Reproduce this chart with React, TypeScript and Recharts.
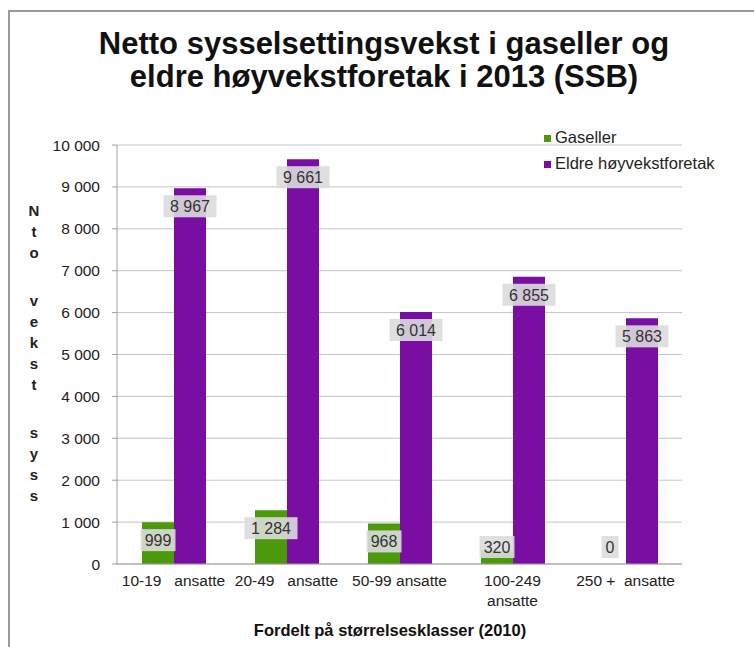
import React from 'react';
import { BarChart, Bar, XAxis, YAxis, CartesianGrid, LabelList } from 'recharts';

// Size classes (2010) and net employment growth per group
const categories = ['10-19   ansatte', '20-49   ansatte', '50-99 ansatte', '100-249\nansatte', '250 +  ansatte'];
const gaseller = [999, 1284, 968, 320, 0];
const eldre = [8967, 9661, 6014, 6855, 5863];
const yTicks = [0, 1000, 2000, 3000, 4000, 5000, 6000, 7000, 8000, 9000, 10000];

const GREEN = '#4c9a0c';
const PURPLE = '#7a0ea3';
const FONT = 'Arial, "Liberation Sans", sans-serif';

const chartData = categories.map((name, i) => ({
  name,
  gaseller: gaseller[i],
  eldre: eldre[i],
}));

const fmt = (v: number) => String(v).replace(/\B(?=(\d{3})+(?!\d))/g, ' ');

function LabelBox({ cx, top, value }: { cx: number; top: number; value: number }) {
  const text = fmt(value);
  // inside end, but never lower than just above the axis
  const cy = Math.min(top + 18, 547);
  const w = text.length * 9 + 8;
  return (
    <g>
      <rect x={cx - w / 2} y={cy - 11} width={w} height={22} fill="#dcdcdc" fillOpacity={0.9} />
      <text x={cx} y={cy + 6} textAnchor="middle" fontSize={16} fill="#333" fontFamily={FONT}>
        {text}
      </text>
    </g>
  );
}

function EldreLabel(props: any) {
  const { x, y, width, value } = props;
  return <LabelBox cx={x + width / 2} top={y} value={value} />;
}

// green labels are hung off the purple bar so the zero bar still gets its "0"
function GasellerLabel(props: any) {
  const { x, y, width, height, index } = props;
  const base = y + height;
  const perUnit = height / eldre[index];
  const top = base - gaseller[index] * perUnit;
  return <LabelBox cx={x - width / 2} top={top} value={gaseller[index]} />;
}

function CategoryTick(props: any) {
  const { x, y, payload } = props;
  const lines = String(payload.value).split('\n');
  return (
    <text x={x} y={y} textAnchor="middle" fontSize={15.5} fill="#222" fontFamily={FONT} style={{ whiteSpace: 'pre' }}>
      {lines.map((l, i) => (
        <tspan key={i} x={x} dy={i === 0 ? 14 : 20}>{l}</tspan>
      ))}
    </text>
  );
}

const yLabel = 'Nto vekst syss';

export default function App() {
  return (
    <div style={{ position: 'absolute', left: 0, top: 0, width: 754, height: 647, background: '#fff', fontFamily: FONT, overflow: 'hidden' }}>
      {/* frame of the original figure */}
      <div style={{ position: 'absolute', left: 8, top: 10, width: 760, height: 660, borderLeft: '2px solid #9a9a9a', borderTop: '2px solid #9a9a9a' }} />

      <div style={{ position: 'absolute', left: 0, top: 27, width: 768, textAlign: 'center', fontSize: 31, fontWeight: 'bold', lineHeight: '33px', color: '#111' }}>
        Netto sysselsettingsvekst i gaseller og<br />eldre høyvekstforetak i 2013 (SSB)
      </div>

      {/* vertical axis title, one letter per line */}
      <div style={{ position: 'absolute', left: 24, top: 200, width: 20, textAlign: 'center', fontSize: 15, fontWeight: 'bold', color: '#222' }}>
        {yLabel.split('').map((c, i) => (
          <div key={i} style={{ height: c === ' ' ? 27 : 21, lineHeight: '21px' }}>{c === ' ' ? '' : c}</div>
        ))}
      </div>

      <BarChart
        width={754}
        height={647}
        data={chartData}
        margin={{ top: 145, right: 72, left: 57, bottom: 0 }}
        barGap={0}
        barSize={32}
      >
        <CartesianGrid vertical={false} stroke="#c4c4c4" />
        <XAxis
          dataKey="name"
          tick={<CategoryTick />}
          tickLine={false}
          axisLine={{ stroke: '#a0a0a0' }}
          interval={0}
          height={83}
        />
        <YAxis
          width={60}
          domain={[0, 10000]}
          ticks={yTicks}
          tickFormatter={fmt}
          tick={{ fill: '#222', fontSize: 15.5, fontFamily: FONT }}
          tickLine={{ stroke: '#a0a0a0' }}
          tickSize={5}
          tickMargin={12}
          axisLine={{ stroke: '#a0a0a0' }}
        />
        <Bar dataKey="gaseller" fill={GREEN} isAnimationActive={false} />
        <Bar dataKey="eldre" fill={PURPLE} isAnimationActive={false}>
          <LabelList dataKey="eldre" content={<EldreLabel />} />
          <LabelList dataKey="gaseller" content={<GasellerLabel />} />
        </Bar>
      </BarChart>

      <div style={{ position: 'absolute', left: 544, top: 124, fontSize: 16.5, color: '#222', lineHeight: '26px' }}>
        <div><span style={{ display: 'inline-block', width: 7, height: 7, background: GREEN, marginRight: 4, verticalAlign: 'middle' }} />Gaseller</div>
        <div><span style={{ display: 'inline-block', width: 7, height: 7, background: PURPLE, marginRight: 4, verticalAlign: 'middle' }} />Eldre høyvekstforetak</div>
      </div>

      <div style={{ position: 'absolute', left: 0, top: 621, width: 780, textAlign: 'center', fontSize: 16.5, fontWeight: 'bold', color: '#111' }}>
        Fordelt på størrelsesklasser (2010)
      </div>
    </div>
  );
}
